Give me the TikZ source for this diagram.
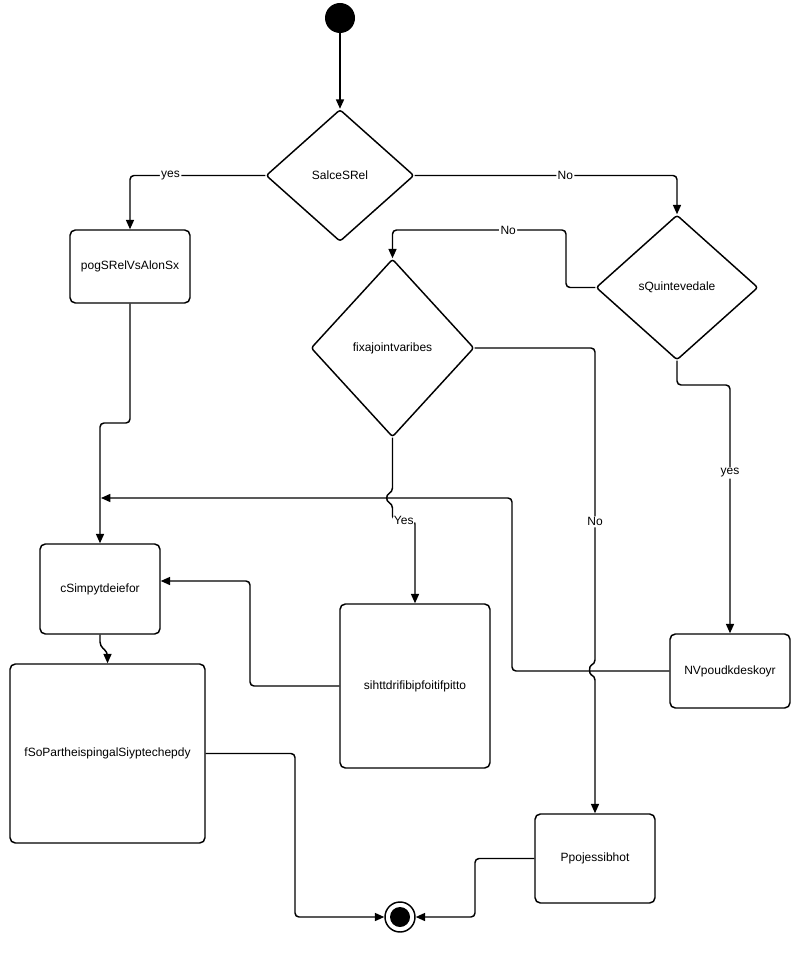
\documentclass[tikz,border=0pt]{standalone}
\usepackage{fontspec}
\setmainfont{Liberation Sans}
\usetikzlibrary{positioning,arrows.meta,shapes.geometric}
\tikzset{
  flow/.style={-{Triangle[length=7pt,width=6pt]},line width=1.1pt,rounded corners=3pt},
  box/.style={draw,line width=1.1pt,rounded corners=4pt,fill=white,
    inner sep=0pt,font=\fontsize{9}{11}\selectfont},
  decision/.style={draw,diamond,line width=1.1pt,rounded corners=2pt,fill=white,
    inner sep=0pt,font=\fontsize{9}{11}\selectfont},
  lbl/.style={fill=white,inner sep=1pt,font=\fontsize{9}{11}\selectfont},
  startdot/.style={circle,fill=black,minimum size=22.5pt,inner sep=0pt},
  enddot/.style={circle,draw,line width=1.1pt,minimum size=22.5pt,inner sep=0pt}
}

\begin{document}
\begin{tikzpicture}[x=0.75pt,y=-0.75pt]
  \useasboundingbox (0,0) rectangle (797,969);
  % nodes
  \node[startdot] (start) at (340,18) {};
  \node[decision,minimum width=111pt,minimum height=99pt] (solve) at (340,175.5) {SalceSRel};
  \node[box,minimum width=90pt,minimum height=54.75pt] (srel) at (130,266.5) {pogSRelVsAlonSx};
  \node[decision,minimum width=121.5pt,minimum height=108.75pt] (quant) at (677,287.5) {sQuintevedale};
  \node[decision,minimum width=122.25pt,minimum height=133.5pt] (joint) at (392.5,348) {fixajointvaribes};
  \node[box,minimum width=90pt,minimum height=67.5pt] (simp) at (100,589) {cSimpytdeiefor};
  \node[box,minimum width=146.25pt,minimum height=134.25pt] (para) at (107.5,753.5) {fSoPartheispingalSiyptechepdy};
  \node[box,minimum width=112.5pt,minimum height=123pt] (fit) at (415,686) {sihttdrifibipfoitifpitto};
  \node[box,minimum width=90pt,minimum height=55.5pt] (numer) at (730,671) {NVpoudkdeskoyr};
  \node[box,minimum width=90pt,minimum height=66.75pt] (notpos) at (595,858.5) {Ppojessibhot};
  \node[enddot] (finish) at (400,917) {};
  \node[circle,fill=black,minimum size=15pt,inner sep=0pt] (finishin) at (finish) {};
  \coordinate (merge) at (101,498);

  % connectors
  \draw[flow] (start) -- (solve.north);
  \draw[flow] (solve.west) -| node[lbl,pos=0.35] {yes} (srel.north);
  \draw[flow] (solve.east) -| node[lbl,pos=0.287] {No} (quant.north);
  \draw[flow] (quant.west) -| (566,230) -- node[lbl,pos=0.333] {No} (392.5,230) -- (joint.north);
  \draw[flow] (quant.south) -- (677,385) -| node[lbl,pos=0.677] {yes} (numer.north);
  \draw[flow] (joint.south) -- (392.5,492) .. controls (386,495) and (386,501) .. (392.5,504)
    -- (392.5,520) -- node[lbl] {Yes} (415,520) -- (fit.north);
  \draw[flow] (joint.east) -| node[lbl,pos=0.775] {No} (595,664) .. controls (589,666) and (589,674) .. (595,676) -- (notpos.north);
  \draw[flow] (numer.west) -| (512,498) -- (merge);
  \draw[flow] (srel.south) -- (130,423) -| (simp.north);
  \draw[flow] (simp.south) -- (100,646) -- (107.5,652) -- (para.north);
  \draw[flow] (fit.west) -- (250,686) |- ([yshift=6pt]simp.east);
  \draw[flow] (para.east) -- (295,753.5) |- (finish.west);
  \draw[flow] (notpos.west) -- (475,858.5) |- (finish.east);
\end{tikzpicture}
\end{document}
